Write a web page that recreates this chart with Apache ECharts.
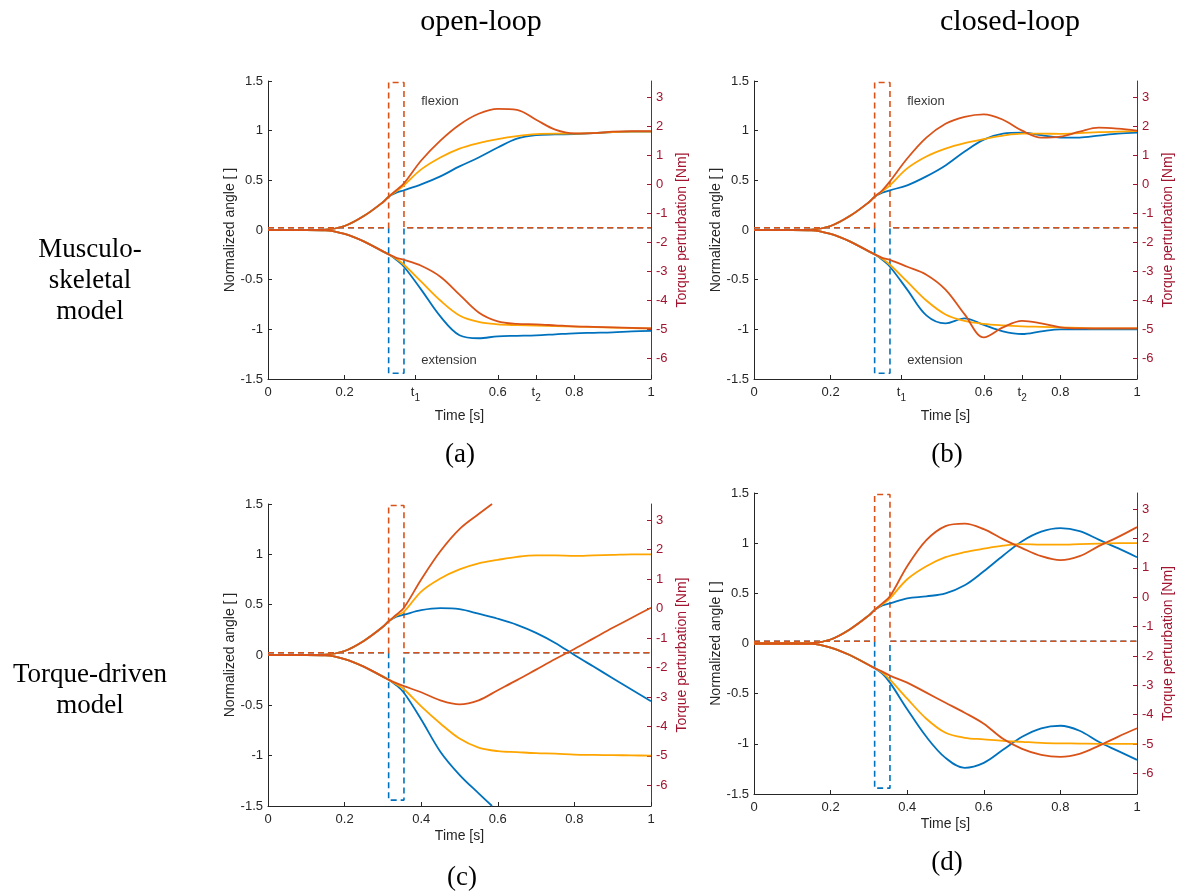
<!DOCTYPE html>
<html><head><meta charset="utf-8">
<script src="https://cdn.jsdelivr.net/npm/echarts@6/dist/echarts.min.js"></script>
<style>html,body{margin:0;padding:0;background:#fff}#c{width:1180px;height:893px}</style>
</head><body><div id="c"></div><script>
// ---------- DATA ----------
const T1 = 0.385, T2 = 0.70;
const X_TICKS_AB = [0, 0.2, T1, 0.6, T2, 0.8, 1];
const RIGHT_TICKS = [-6, -5, -4, -3, -2, -1, 0, 1, 2, 3];

// shared rise before the perturbation
const T_PRE = [0, 0.05, 0.1, 0.15, 0.2, 0.25, 0.3, 0.315];
const FLEX_PRE = [0, 0, 0, 0.003, 0.04, 0.14, 0.28, 0.335];
const EXT_PRE = [0, 0, 0, -0.003, -0.04, -0.115, -0.215, -0.245];

// after the perturbation
const T_POST = [0.335, 0.355, 0.4, 0.45, 0.5, 0.55, 0.6, 0.65, 0.7, 0.75, 0.8, 0.85, 0.9, 0.95, 1.0];
const T_CLIP = [0.335, 0.355, 0.4, 0.45, 0.5, 0.55, 0.585];

// (a) musculoskeletal, open-loop
const aFlexBlue   = [0.375, 0.40, 0.46, 0.54, 0.64, 0.73, 0.83, 0.92, 0.955, 0.962, 0.966, 0.975, 0.985, 0.99, 0.99];
const aFlexYellow = [0.39, 0.45, 0.61, 0.73, 0.82, 0.875, 0.915, 0.945, 0.965, 0.97, 0.97, 0.975, 0.985, 0.99, 0.99];
const aFlexOrange = [0.40, 0.47, 0.70, 0.90, 1.06, 1.17, 1.22, 1.21, 1.11, 1.01, 0.973, 0.975, 0.99, 0.995, 0.995];
const aExtBlue    = [-0.30, -0.37, -0.60, -0.87, -1.06, -1.09, -1.07, -1.065, -1.06, -1.05, -1.04, -1.035, -1.03, -1.02, -1.015];
const aExtYellow  = [-0.29, -0.35, -0.52, -0.71, -0.86, -0.925, -0.95, -0.958, -0.963, -0.968, -0.973, -0.978, -0.983, -0.988, -0.99];
const aExtOrange  = [-0.28, -0.30, -0.36, -0.47, -0.65, -0.83, -0.92, -0.945, -0.95, -0.96, -0.97, -0.975, -0.98, -0.985, -0.99];

// (b) musculoskeletal, closed-loop
const bFlexBlue   = [0.375, 0.40, 0.45, 0.54, 0.65, 0.79, 0.91, 0.97, 0.98, 0.955, 0.93, 0.93, 0.95, 0.97, 0.98];
const bFlexYellow = [0.39, 0.45, 0.62, 0.74, 0.82, 0.875, 0.915, 0.95, 0.97, 0.97, 0.968, 0.975, 0.985, 0.99, 0.995];
const bFlexOrange = [0.40, 0.49, 0.72, 0.93, 1.07, 1.14, 1.165, 1.11, 1.0, 0.93, 0.94, 0.99, 1.03, 1.02, 1.0];
const bExtBlue    = [-0.30, -0.37, -0.60, -0.86, -0.94, -0.89, -0.956, -1.02, -1.047, -1.02, -1.0, -1.0, -1.0, -1.0, -1.0];
const bExtYellow  = [-0.29, -0.35, -0.52, -0.71, -0.85, -0.915, -0.945, -0.96, -0.97, -0.975, -0.98, -0.985, -0.99, -0.99, -0.99];
const bExtOrange  = [-0.28, -0.30, -0.37, -0.45, -0.60, -0.85, -1.08, -0.98, -0.915, -0.94, -0.98, -0.99, -0.99, -0.99, -0.99];

// (c) torque-driven, open-loop
const cFlexBlue   = [0.38, 0.40, 0.445, 0.465, 0.455, 0.41, 0.36, 0.30, 0.22, 0.12, 0.0, -0.115, -0.23, -0.345, -0.46];
const cFlexYellow = [0.39, 0.43, 0.63, 0.76, 0.85, 0.91, 0.945, 0.975, 0.99, 0.99, 0.985, 0.99, 0.995, 1.0, 1.0];
const cFlexOrange = [0.40, 0.47, 0.75, 1.03, 1.25, 1.40, 1.5];            // on T_CLIP
const cExtBlue    = [-0.30, -0.375, -0.64, -0.96, -1.19, -1.375, -1.5];   // on T_CLIP
const cExtYellow  = [-0.29, -0.34, -0.51, -0.68, -0.83, -0.92, -0.955, -0.965, -0.975, -0.98, -0.99, -0.993, -0.995, -0.997, -1.0];
const cExtOrange  = [-0.28, -0.31, -0.37, -0.45, -0.49, -0.45, -0.35, -0.25, -0.145, -0.04, 0.06, 0.165, 0.27, 0.37, 0.47];

// (d) torque-driven, closed-loop
const dFlexBlue   = [0.38, 0.40, 0.45, 0.47, 0.50, 0.58, 0.72, 0.875, 1.02, 1.115, 1.15, 1.12, 1.035, 0.95, 0.86];
const dFlexYellow = [0.39, 0.45, 0.64, 0.77, 0.86, 0.91, 0.945, 0.975, 0.99, 0.985, 0.985, 0.99, 0.995, 1.0, 1.0];
const dFlexOrange = [0.40, 0.47, 0.77, 1.03, 1.17, 1.195, 1.14, 1.04, 0.95, 0.87, 0.83, 0.87, 0.97, 1.06, 1.16];
const dExtBlue    = [-0.30, -0.39, -0.655, -0.93, -1.14, -1.24, -1.19, -1.06, -0.93, -0.845, -0.82, -0.87, -0.98, -1.07, -1.16];
const dExtYellow  = [-0.29, -0.36, -0.55, -0.75, -0.89, -0.94, -0.955, -0.97, -0.98, -0.99, -0.995, -0.997, -1.0, -1.0, -1.0];
const dExtOrange  = [-0.28, -0.32, -0.39, -0.49, -0.59, -0.69, -0.80, -0.95, -1.05, -1.11, -1.13, -1.10, -1.02, -0.93, -0.845];

// torque perturbation pulses (right axis)
const PULSE_T = [0, 0.315, 0.315, 0.355, 0.355, 1];
const PULSE_FLEX = [-1.5, -1.5, 3.5, 3.5, -1.5, -1.5];
const PULSE_EXT = [-1.5, -1.5, -6.5, -6.5, -1.5, -1.5];

const NOTES = [[0.40, 1.29, 'flexion'], [0.40, -1.31, 'extension']];

// ---------- STYLE / LAYOUT ----------
const BLUE = '#0072BD', ORANGE = '#D95319', YELLOW = '#FFA500';
const AX = '#262626', RED = '#A2142F';
const SANS = '"Liberation Sans", Arial, Helvetica, sans-serif';
const SERIF = '"Liberation Serif", "Times New Roman", serif';

const panels = [
  { grid: {left: 268, top: 81, width: 383, height: 298}, gapX: 30, custom: true, notes: true,
    d: [aFlexBlue, aFlexYellow, aFlexOrange, aExtBlue, aExtYellow, aExtOrange], clip: [] },
  { grid: {left: 754, top: 81, width: 383, height: 298}, gapX: 30, custom: true, notes: true,
    d: [bFlexBlue, bFlexYellow, bFlexOrange, bExtBlue, bExtYellow, bExtOrange], clip: [] },
  { grid: {left: 268, top: 504, width: 383, height: 302}, gapX: 23, custom: false, notes: false,
    d: [cFlexBlue, cFlexYellow, cFlexOrange, cExtBlue, cExtYellow, cExtOrange], clip: [2, 3] },
  { grid: {left: 754, top: 493, width: 383, height: 301}, gapX: 23, custom: false, notes: false,
    d: [dFlexBlue, dFlexYellow, dFlexOrange, dExtBlue, dExtYellow, dExtOrange], clip: [] }
];
const CURVE_COLORS = [BLUE, YELLOW, ORANGE, BLUE, YELLOW, ORANGE];
const DRAW_ORDER = [0, 3, 1, 4, 2, 5];

function zip(a, b) { return a.map((v, i) => [v, b[i]]); }

const grids = [], xAxes = [], yAxes = [], series = [];
panels.forEach((p, i) => {
  grids.push(Object.assign({show: false}, p.grid));
  const xLabel = {
    fontSize: 13, color: AX, fontFamily: SANS, margin: 7,
    formatter: v => Math.abs(v - T1) < 1e-9 ? '{t|t}{s|1}' : (Math.abs(v - T2) < 1e-9 ? '{t|t}{s|2}' : String(+(+v).toFixed(2))),
    rich: {
      t: {fontSize: 13, color: AX, fontFamily: SANS, verticalAlign: 'top', lineHeight: 17},
      s: {fontSize: 10, color: AX, fontFamily: SANS, verticalAlign: 'bottom', lineHeight: 17}
    }
  };
  const xTick = {show: true, inside: true, length: 4, lineStyle: {color: AX, width: 1}};
  if (p.custom) { xLabel.customValues = X_TICKS_AB; xTick.customValues = X_TICKS_AB; }
  xAxes.push({
    gridIndex: i, type: 'value', min: 0, max: 1, interval: 0.2,
    name: 'Time [s]', nameLocation: 'middle', nameGap: p.gapX,
    nameTextStyle: {fontSize: 14, color: AX, fontFamily: SANS},
    axisLine: {show: true, onZero: false, lineStyle: {color: AX, width: 1}},
    axisTick: xTick, axisLabel: xLabel, splitLine: {show: false}
  });
  yAxes.push({
    gridIndex: i, type: 'value', position: 'left', min: -1.5, max: 1.5, interval: 0.5,
    name: 'Normalized angle [ ]', nameLocation: 'middle', nameGap: 31,
    nameTextStyle: {fontSize: 14, color: AX, fontFamily: SANS},
    axisLine: {show: true, onZero: false, lineStyle: {color: AX, width: 1}},
    axisTick: {show: true, inside: true, length: 4, lineStyle: {color: AX}},
    axisLabel: {fontSize: 13, color: AX, fontFamily: SANS, margin: 5},
    splitLine: {show: false}
  });
  yAxes.push({
    gridIndex: i, type: 'value', position: 'right', min: -6.7, max: 3.55,
    name: 'Torque perturbation [Nm]', nameLocation: 'middle', nameGap: 24,
    nameTextStyle: {fontSize: 14, color: RED, fontFamily: SANS},
    axisLine: {show: true, onZero: false, lineStyle: {color: RED, width: 1}},
    axisTick: {show: true, inside: true, length: 4, lineStyle: {color: RED}, customValues: RIGHT_TICKS},
    axisLabel: {fontSize: 13, color: RED, fontFamily: SANS, margin: 5, customValues: RIGHT_TICKS},
    splitLine: {show: false}
  });
  // pulses
  [[PULSE_EXT, BLUE], [PULSE_FLEX, ORANGE]].forEach(([vals, col]) => {
    series.push({
      type: 'line', xAxisIndex: i, yAxisIndex: 2 * i + 1, data: zip(PULSE_T, vals),
      showSymbol: false, smooth: false, silent: true, animation: false,
      lineStyle: {color: col, width: 1.6, type: [6, 4]}, itemStyle: {color: col}, z: 2
    });
  });
  // curves
  DRAW_ORDER.forEach(k => {
    const isFlex = k < 3;
    const tPost = p.clip.indexOf(k) >= 0 ? T_CLIP : T_POST;
    const data = zip(T_PRE, isFlex ? FLEX_PRE : EXT_PRE).concat(zip(tPost, p.d[k]));
    series.push({
      type: 'line', xAxisIndex: i, yAxisIndex: 2 * i, data: data,
      showSymbol: false, smooth: 0.35, silent: true, animation: false, clip: true,
      lineStyle: {color: CURVE_COLORS[k], width: 1.8}, itemStyle: {color: CURVE_COLORS[k]}, z: 3
    });
  });
  if (p.notes) {
    series.push({
      type: 'scatter', xAxisIndex: i, yAxisIndex: 2 * i, data: NOTES, symbolSize: 0, silent: true, animation: false,
      label: {show: true, position: 'right', distance: 0, formatter: q => q.data[2],
        fontSize: 13, color: '#000', fontFamily: SANS}
    });
  }
});

const texts = [
  {x: 481, y: 22, t: 'open-loop', fs: 30},
  {x: 1010, y: 22, t: 'closed-loop', fs: 30},
  {x: 90, y: 281, t: 'Musculo-\nskeletal\nmodel', fs: 27},
  {x: 90, y: 690, t: 'Torque-driven\nmodel', fs: 27},
  {x: 460, y: 455, t: '(a)', fs: 27},
  {x: 947, y: 455, t: '(b)', fs: 27},
  {x: 462, y: 878, t: '(c)', fs: 27},
  {x: 947, y: 863, t: '(d)', fs: 27}
];
const graphic = texts.map(o => ({
  type: 'text', x: o.x, y: o.y, silent: true,
  style: {text: o.t, fill: '#000', font: o.fs + 'px ' + SERIF, textAlign: 'center', textVerticalAlign: 'middle', lineHeight: 31}
}));

const chart = echarts.init(document.getElementById('c'), null, {renderer: 'canvas'});
chart.setOption({
  backgroundColor: '#fff', animation: false,
  grid: grids, xAxis: xAxes, yAxis: yAxes, series: series, graphic: graphic
});
</script></body></html>
